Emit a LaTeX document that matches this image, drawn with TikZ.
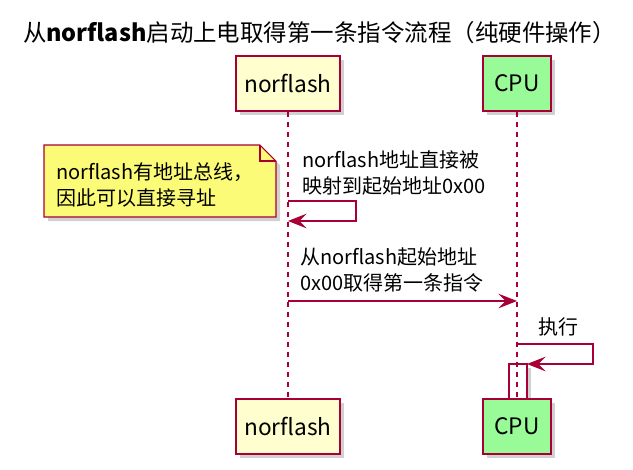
\documentclass[tikz,border=0pt]{standalone}
\usepackage{fontspec}
\setmainfont{Noto Sans CJK SC}
\usetikzlibrary{arrows.meta,shadows}
\definecolor{umlred}{HTML}{A80036}
\definecolor{partyellow}{HTML}{FEFECE}
\definecolor{noteyellow}{HTML}{FBFB77}
\definecolor{cpugreen}{HTML}{98FB98}
\tikzset{
	umlshadow/.style={drop shadow={shadow xshift=3pt, shadow yshift=-3pt,
		fill=black!60, opacity=.3}},
	party/.style={draw=umlred, line width=1.1pt, fill=partyellow,
		minimum width=78pt, minimum height=41pt,
		font=\fontsize{17}{20}\selectfont, umlshadow},
	lifeline/.style={umlred, line width=.8pt, dash pattern=on 4pt off 3.5pt},
	msg/.style={umlred, line width=.8pt,
		-{Stealth[length=14pt, width=11pt, inset=5.5pt]}},
	msgtext/.style={anchor=west, align=left, inner sep=0pt,
		font=\fontsize{15}{19.5}\selectfont},
}

\begin{document}
\begin{tikzpicture}[x=0.75pt, y=-0.75pt]
\useasboundingbox (0,0) rectangle (633,469);
\node[font=\fontsize{17.6}{20}\selectfont] (title) at (319.5,32.5)
	{从{\bfseries norflash}启动上电取得第一条指令流程（纯硬件操作）};

% participants
\node[party] (nfTop) at (288,83.5) {norflash};
\node[party, fill=cpugreen, minimum width=51pt] (cpuTop) at (517,83.5) {CPU};

% activation of CPU
\draw[umlred, line width=1.1pt, fill=white, umlshadow] (509,364) rectangle (527,402);

\node[party] (nfBot) at (288,426.5) {norflash};
\node[party, fill=cpugreen, minimum width=51pt] (cpuBot) at (517,426.5) {CPU};

\draw[lifeline] (nfTop.south) -- (nfBot.north);
\draw[lifeline] (cpuTop.south) -- (cpuBot.north);

% note
\fill[black!60, opacity=.3] (48,149) -- (264,149) -- (280,165)
	-- (280,221) -- (48,221) -- cycle;
\draw[umlred, line width=.8pt, fill=noteyellow] (44,145) -- (260,145)
	-- (276,161) -- (276,217) -- (44,217) -- cycle;
\draw[umlred, line width=.8pt] (260,145) -- (260,161) -- (276,161);
\node[msgtext] (noteText) at (56,185) {norflash有地址总线，\\因此可以直接寻址};

% messages
\node[msgtext] (m1Text) at (302,173) {norflash地址直接被\\映射到起始地址0x00};
\draw[msg] (nfTop.south |- 0,201) -- (356,201) -- (356,221)
	-- (nfTop.south |- 0,221);

\node[msgtext] (m2Text) at (300,270) {从norflash起始地址\\0x00取得第一条指令};
\draw[msg] (nfTop.south |- 0,301) -- (cpuTop.south |- 0,301);

\node[msgtext] (m3Text) at (538,327) {执行};
\draw[msg] (cpuTop.south |- 0,344) -- (593,344) -- (593,364) -- (527,364);
\end{tikzpicture}
\end{document}
